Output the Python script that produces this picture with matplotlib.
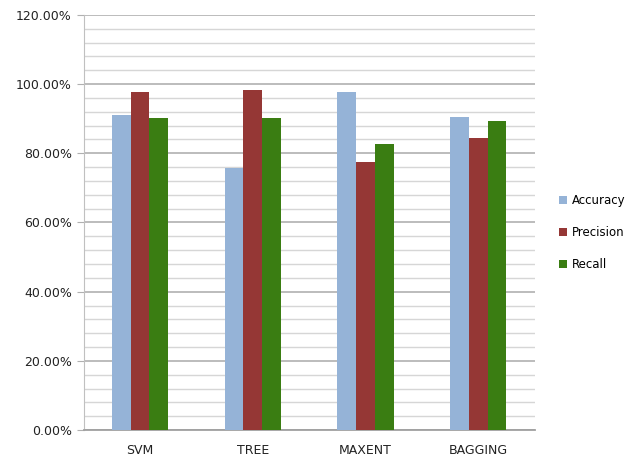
import numpy as np
import matplotlib
matplotlib.use("Agg")
import matplotlib.pyplot as plt
from matplotlib.ticker import MultipleLocator, FuncFormatter

models = ["SVM", "TREE", "MAXENT", "BAGGING"]
accuracy = [91.1, 75.8, 97.6, 90.6]
precision = [97.6, 98.2, 77.4, 84.4]
recall = [90.3, 90.3, 82.7, 89.4]

series = [("Accuracy", accuracy, "#95b3d7"),
          ("Precision", precision, "#953735"),
          ("Recall", recall, "#3a7d12")]

plt.rcParams['font.family'] = ['DejaVu Sans']

fig = plt.figure(figsize=(6.44, 4.63), dpi=100)
ax = fig.add_axes([0.13, 0.071, 0.70, 0.897])

x = np.arange(len(models))
width = 0.167
for i, (name, vals, color) in enumerate(series):
    ax.bar(x + (i - 1) * width, vals, width, color=color, label=name, zorder=3)

ax.set_xlim(-0.5, len(models) - 0.5)
ax.set_ylim(0, 120)
ax.yaxis.set_major_locator(MultipleLocator(20))
ax.yaxis.set_minor_locator(MultipleLocator(4))
ax.yaxis.set_major_formatter(FuncFormatter(lambda v, p: f"{v:.2f}%"))
ax.grid(axis="y", which="major", color="#b0b0b0", linewidth=1.2, zorder=0)
ax.grid(axis="y", which="minor", color="#d6d6d6", linewidth=1.0, zorder=0)
ax.set_axisbelow(True)

ax.set_xticks(x)
ax.set_xticklabels(models)
ax.tick_params(axis="x", length=0, pad=10, labelsize=9, colors="#222222")
ax.tick_params(axis="y", which="major", length=5, color="#b0b0b0", labelsize=9,
               colors="#222222")
ax.tick_params(axis="y", which="minor", length=0)
for lab in ax.get_yticklabels():
    lab.set_color("#222222")

for side in ["top", "right"]:
    ax.spines[side].set_visible(False)
ax.spines["left"].set_color("#c0c0c0")
ax.spines["bottom"].set_color("#a0a0a0")
ax.spines["bottom"].set_linewidth(1.3)

ax.legend(loc="center left", bbox_to_anchor=(1.03, 0.475), frameon=False,
          fontsize=8.5, handlelength=0.7, handleheight=0.7, labelspacing=1.6,
          handletextpad=0.4)

fig.savefig("out.png", dpi=100)
